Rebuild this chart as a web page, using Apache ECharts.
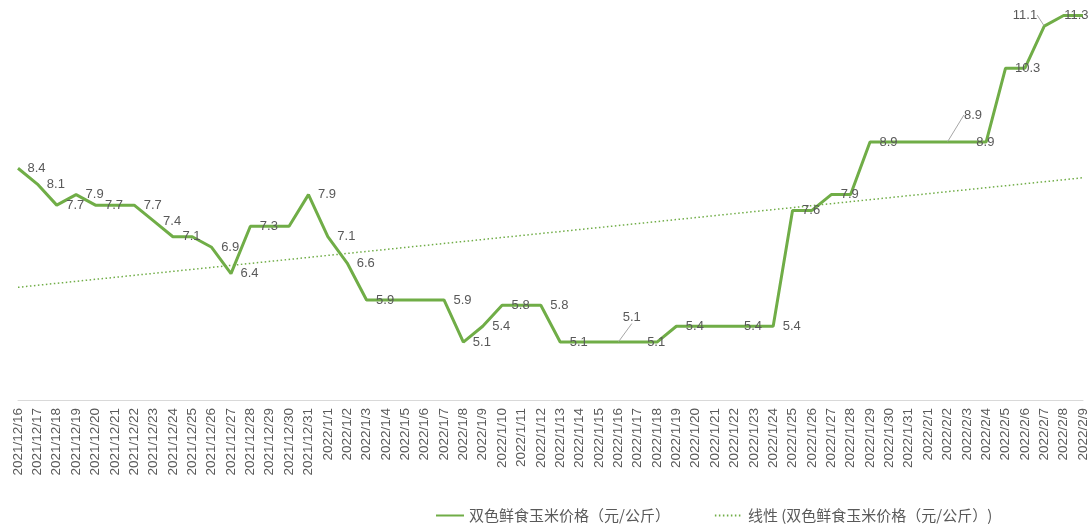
<!DOCTYPE html>
<html>
<head>
<meta charset="utf-8">
<script src="https://cdn.jsdelivr.net/npm/echarts@6/dist/echarts.min.js"></script>
<style>
  html, body { margin: 0; padding: 0; background: #fff; }
  #main { width: 1092px; height: 525px; }
</style>
</head>
<body>
<div id="main"></div>
<script>
// 日期
var dates = [
  '2021/12/16', '2021/12/17', '2021/12/18', '2021/12/19', '2021/12/20', '2021/12/21',
  '2021/12/22', '2021/12/23', '2021/12/24', '2021/12/25', '2021/12/26', '2021/12/27',
  '2021/12/28', '2021/12/29', '2021/12/30', '2021/12/31',
  '2022/1/1', '2022/1/2', '2022/1/3', '2022/1/4', '2022/1/5', '2022/1/6', '2022/1/7',
  '2022/1/8', '2022/1/9', '2022/1/10', '2022/1/11', '2022/1/12', '2022/1/13', '2022/1/14',
  '2022/1/15', '2022/1/16', '2022/1/17', '2022/1/18', '2022/1/19', '2022/1/20', '2022/1/21',
  '2022/1/22', '2022/1/23', '2022/1/24', '2022/1/25', '2022/1/26', '2022/1/27', '2022/1/28',
  '2022/1/29', '2022/1/30', '2022/1/31',
  '2022/2/1', '2022/2/2', '2022/2/3', '2022/2/4', '2022/2/5', '2022/2/6', '2022/2/7',
  '2022/2/8', '2022/2/9'
];

// 双色鲜食玉米价格（元/公斤）
var prices = [
  8.4, 8.1, 7.7, 7.9, 7.7, 7.7, 7.7, 7.4, 7.1, 7.1, 6.9, 6.4, 7.3, 7.3, 7.3, 7.9,
  7.1, 6.6, 5.9, 5.9, 5.9, 5.9, 5.9, 5.1, 5.4, 5.8, 5.8, 5.8, 5.1, 5.1, 5.1, 5.1,
  5.1, 5.1, 5.4, 5.4, 5.4, 5.4, 5.4, 5.4, 7.6, 7.6, 7.9, 7.9, 8.9, 8.9, 8.9, 8.9,
  8.9, 8.9, 8.9, 10.3, 10.3, 11.1, 11.3, 11.3
];

// 线性趋势线首尾值
var trendEnds = [6.14, 8.22];

// 显示数据标签的点
var labelIdx = [0, 1, 2, 3, 4, 6, 7, 8, 10, 11, 12, 15, 16, 17, 18, 22, 23, 24, 25, 27,
  28, 31, 32, 34, 37, 39, 40, 42, 44, 48, 49, 51, 53, 54];

var seriesName = '双色鲜食玉米价格（元/公斤）';
var trendName = '线性 (双色鲜食玉米价格（元/公斤）)';
var green = '#70AD47';

var trendData = dates.map(function (d, i) {
  if (i === 0) return trendEnds[0];
  if (i === dates.length - 1) return trendEnds[1];
  return null;
});

// 带引线的标签偏移
var moved = { 31: [-5, -25], 48: [7, -27], 53: [-41, -11] };
var shifted = { 54: [-9, 0] };

var myChart = echarts.init(document.getElementById('main'));
myChart.setOption({
  animation: false,
  grid: { left: 18, right: 9, top: 5, bottom: 125 },
  legend: {
    left: 430,
    top: 503,
    itemWidth: 28,
    itemHeight: 14,
    itemGap: 44,
    textStyle: { color: '#595959', fontSize: 15, fontFamily: 'Noto Sans CJK SC' },
    data: [seriesName, trendName]
  },
  xAxis: {
    type: 'category',
    boundaryGap: false,
    data: dates,
    axisLine: { lineStyle: { color: '#d9d9d9' } },
    axisTick: { show: false },
    axisLabel: {
      interval: 0,
      rotate: 90,
      margin: 8,
      color: '#595959',
      fontSize: 13.5,
      fontFamily: 'Liberation Sans'
    }
  },
  yAxis: {
    type: 'value',
    min: 4,
    max: 11.5,
    show: false,
    splitLine: { show: false }
  },
  series: [
    {
      name: seriesName,
      type: 'line',
      data: prices.map(function (v, i) {
        return {
          value: v,
          label: { show: labelIdx.indexOf(i) >= 0 },
          labelLine: { show: !!moved[i] }
        };
      }),
      symbol: 'circle',
      symbolSize: 1,
      itemStyle: { color: 'rgba(0,0,0,0)' },
      lineStyle: { color: green, width: 3 },
      label: {
        position: 'right',
        distance: 9,
        offset: [0, 1],
        color: '#595959',
        fontSize: 13,
        fontFamily: 'Liberation Sans'
      },
      labelLine: { show: false, lineStyle: { color: '#a6a6a6', width: 1 } },
      labelLayout: function (p) {
        var m = moved[p.dataIndex] || shifted[p.dataIndex];
        if (m) return { dx: m[0], dy: m[1] };
        return {};
      },
      z: 3
    },
    {
      name: trendName,
      type: 'line',
      data: trendData,
      connectNulls: true,
      symbol: 'none',
      itemStyle: { color: 'rgba(0,0,0,0)' },
      lineStyle: { color: green, width: 1.5, type: [1.5, 2.5] },
      z: 2
    }
  ]
});
</script>
</body>
</html>
